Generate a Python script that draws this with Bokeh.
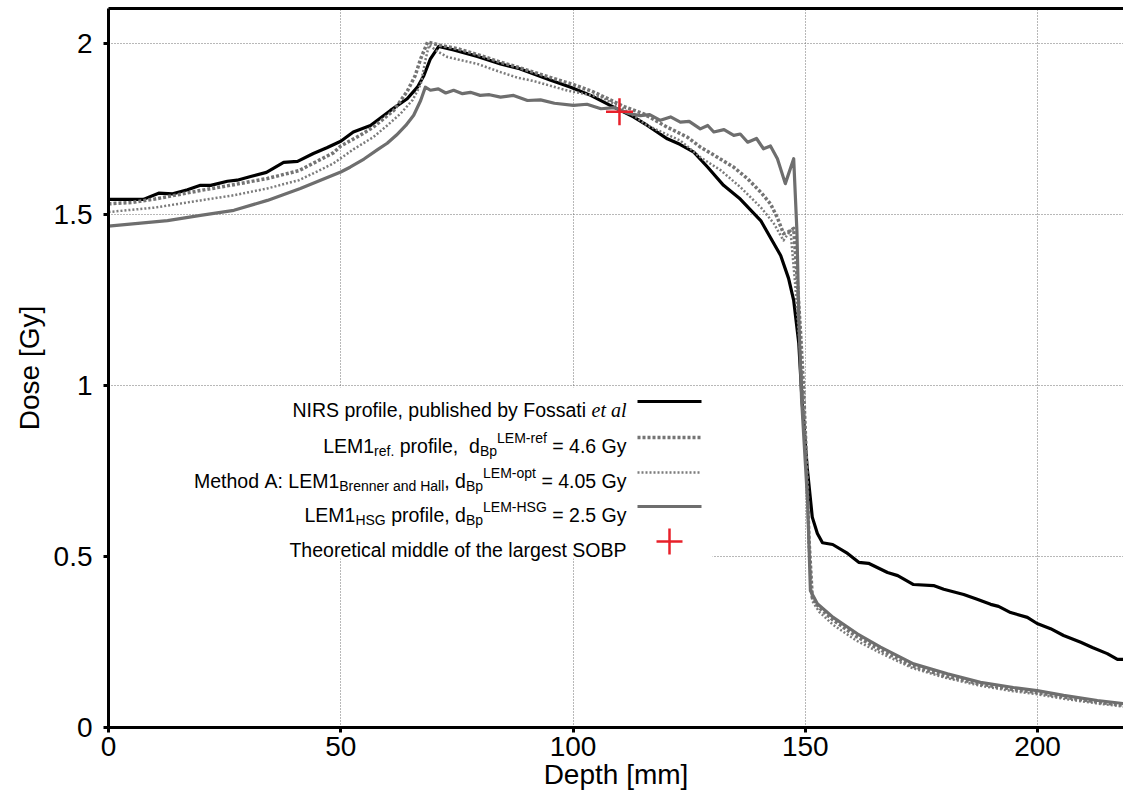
from bokeh.plotting import figure
from bokeh.models import Range1d, LinearAxis, FixedTicker, NumeralTickFormatter, BoxAnnotation, Label
from bokeh.embed import file_html
from bokeh.resources import INLINE

# ---------------- data ----------------
NIRS_X = [0, 7.5, 10.8, 13.8, 17, 19.8, 22, 25.6, 27.7, 30.6, 34, 37.7, 40.7, 44.1, 47, 50, 52.7, 56.4, 60.7, 64.3,
          66.5, 67.9, 69.3, 71.1, 74.3, 79.4, 84.4, 88.5, 92, 95.2, 99.5, 103.8, 108, 113, 116, 120.3, 123, 126, 129, 132.4,
          136, 140.4, 144.7, 146.4, 147.5, 148.6, 149.3, 150.4, 151.5, 152.6, 153.7, 155.9, 159.1, 161.5, 163.6, 167.7,
          169.9, 173.3, 177.6, 179.8, 184.1, 187, 189.9, 191.6, 194.2, 197.8, 199.9, 202.8, 205.6, 209.3, 211.8, 215,
          217.2, 218.5]
NIRS_Y = [1.544, 1.544, 1.562, 1.560, 1.572, 1.585, 1.585, 1.597, 1.600, 1.611, 1.623, 1.652, 1.655, 1.678, 1.695,
          1.714, 1.741, 1.760, 1.804, 1.838, 1.872, 1.906, 1.955, 1.991, 1.981, 1.962, 1.940, 1.926, 1.908, 1.892,
          1.872, 1.848, 1.819, 1.785, 1.760, 1.721, 1.705, 1.682, 1.638, 1.585, 1.545, 1.482, 1.380, 1.313, 1.249,
          1.123, 0.956, 0.761, 0.615, 0.567, 0.540, 0.535, 0.509, 0.483, 0.480, 0.453, 0.444, 0.418, 0.415, 0.404,
          0.389, 0.375, 0.360, 0.354, 0.336, 0.322, 0.304, 0.289, 0.269, 0.249, 0.234, 0.216, 0.199, 0.199]

LEMREF_X = [0, 5, 10, 19.8, 27, 34.2, 41, 48.4, 50, 54, 57, 61.4, 64.3, 66, 67.2, 68.7, 71.5, 75, 80, 84.4, 88, 95.2,
            100, 104.4, 108, 111, 115.2, 120.3, 124.6, 127.4, 131.1, 134.6, 137.6, 140.4, 142.5, 144, 145.3, 146.5,
            147.5, 148.3, 149, 149.6, 150.2, 150.8, 151.5, 153, 156, 161, 166, 173, 180, 187.7, 194.8, 200, 205.6,
            213, 218.5]
LEMREF_Y = [1.531, 1.535, 1.545, 1.570, 1.587, 1.605, 1.628, 1.680, 1.700, 1.730, 1.755, 1.804, 1.860, 1.905, 1.955,
            2.004, 1.994, 1.985, 1.965, 1.945, 1.931, 1.900, 1.880, 1.858, 1.835, 1.815, 1.794, 1.755, 1.726, 1.697,
            1.667, 1.638, 1.604, 1.565, 1.531, 1.490, 1.444, 1.450, 1.459, 1.300, 1.150, 1.000, 0.800, 0.550, 0.380,
            0.350, 0.314, 0.266, 0.228, 0.180, 0.151, 0.127, 0.111, 0.102, 0.089, 0.074, 0.065]

METHA_X = [0, 10, 19.8, 27, 34.2, 41, 45.6, 48.4, 52.7, 57, 60, 62.9, 65.5, 67.2, 68.2, 69, 71, 73, 79.4, 84.4, 88,
           91.5, 98.8, 106, 110, 113, 116, 123.1, 127.4, 131.8, 136, 140.4, 143.2, 145.3, 146.8, 147.8, 148.8, 149.5,
           150.2, 150.8, 151.5, 153, 156, 161, 166, 173, 180, 187.7, 194.8, 200, 205.6, 213, 218.5]
METHA_Y = [1.507, 1.520, 1.541, 1.556, 1.576, 1.600, 1.630, 1.649, 1.690, 1.726, 1.760, 1.795, 1.835, 1.880, 1.950,
           1.995, 1.975, 1.960, 1.940, 1.916, 1.900, 1.890, 1.862, 1.843, 1.815, 1.789, 1.760, 1.716, 1.667, 1.629,
           1.580, 1.521, 1.474, 1.424, 1.453, 1.300, 1.120, 0.980, 0.780, 0.520, 0.370, 0.338, 0.300, 0.254, 0.219,
           0.174, 0.146, 0.122, 0.106, 0.097, 0.084, 0.070, 0.061]

HSG_X = [0, 12.7, 19.8, 27, 34.2, 41.3, 50, 52, 55, 58, 60, 62, 64, 65.7, 67.2, 68.2, 69.3, 71, 72.6, 74.3, 76.2,
         77.9, 80, 82, 84.4, 87.2, 90.2, 93, 96, 100.1, 103, 106, 109, 112, 114.5, 116.5, 118.8, 121, 123.1, 125,
         127.4, 129, 130.3, 132.5, 134.6, 136, 137.6, 139.5, 141, 142.5, 144, 145.7, 147.5, 148.2, 148.6, 149.2,
         150.5, 151.1, 152.6, 156, 161.2, 166.2, 173.3, 180.6, 187.7, 194.8, 199.9, 205.6, 212.9, 218.5]
HSG_Y = [1.466, 1.482, 1.497, 1.512, 1.541, 1.576, 1.624, 1.638, 1.662, 1.690, 1.708, 1.732, 1.760, 1.790, 1.833,
         1.872, 1.863, 1.867, 1.855, 1.863, 1.853, 1.857, 1.848, 1.850, 1.843, 1.848, 1.833, 1.835, 1.825, 1.819,
         1.822, 1.809, 1.812, 1.795, 1.789, 1.792, 1.775, 1.785, 1.770, 1.772, 1.750, 1.760, 1.741, 1.748, 1.731,
         1.735, 1.711, 1.722, 1.692, 1.700, 1.663, 1.590, 1.663, 1.450, 1.200, 0.960, 0.660, 0.400, 0.362, 0.322,
         0.274, 0.235, 0.186, 0.157, 0.132, 0.117, 0.108, 0.094, 0.079, 0.070]

SOBP_X = [110]
SOBP_Y = [1.8]

X_TICKS = [0, 50, 100, 150, 200]
Y_TICKS = [0, 0.5, 1, 1.5, 2]

# ---------------- layout / style ----------------
W, H = 1123, 798
FL, FR, FT, FB = 108, 1123, 8, 727
X0, X1 = 0, 218.5
Y0, Y1 = 0, 2.102
FONT = "Liberation Sans"
RED = "#e8202a"
C_HSG = "#6e6e6e"
C_REF = "#747474"
C_MA = "#7c7c7c"


def px2x(px):
    return X0 + (px - FL) / (FR - FL) * (X1 - X0)


def py2y(py):
    return Y0 + (FB - py) / (FB - FT) * (Y1 - Y0)


p = figure(width=W, height=H, x_range=Range1d(X0, X1), y_range=Range1d(Y0, Y1),
           output_backend="svg", toolbar_location=None,
           min_border_left=FL, min_border_right=0, min_border_top=FT, min_border_bottom=H - FB,
           outline_line_color=None, background_fill_color="white", border_fill_color="white")

# axes
for ax in (p.xaxis[0], p.yaxis[0]):
    ax.axis_line_width = 3
    ax.axis_line_color = "black"
    ax.major_tick_line_width = 3
    ax.major_tick_in = 0
    ax.major_tick_out = 5
    ax.minor_tick_line_color = None
    ax.major_label_text_font = FONT
    ax.major_label_text_font_size = "28px"
    ax.major_label_text_color = "black"
    ax.axis_label_text_font = FONT
    ax.axis_label_text_font_size = "28px"
    ax.axis_label_text_font_style = "normal"
    ax.axis_label_text_color = "black"

p.xaxis.ticker = FixedTicker(ticks=X_TICKS)
p.yaxis.ticker = FixedTicker(ticks=Y_TICKS)
p.yaxis.formatter = NumeralTickFormatter(format="0.[0]")
p.xaxis.axis_label = "Depth [mm]"
p.yaxis.axis_label = "Dose [Gy]"
p.xaxis.major_label_standoff = 4
p.xaxis.axis_label_standoff = 0
p.yaxis.major_label_standoff = 11
p.yaxis.axis_label_standoff = 6

top_axis = LinearAxis(ticker=FixedTicker(ticks=[]), axis_line_width=3, axis_line_color="black",
                      major_label_text_font_size="0px", major_tick_line_color=None,
                      minor_tick_line_color=None, major_label_standoff=0)
p.add_layout(top_axis, "above")

# grid
p.xgrid.ticker = FixedTicker(ticks=[t for t in X_TICKS if t > 0])
p.ygrid.ticker = FixedTicker(ticks=[t for t in Y_TICKS if t > 0])
for g in (p.xgrid[0], p.ygrid[0]):
    g.grid_line_color = "#707070"
    g.grid_line_width = 1
    g.grid_line_dash = "1 2"

# legend background (hides grid)
p.add_layout(BoxAnnotation(left=px2x(FL), right=px2x(712), top=py2y(387), bottom=py2y(558),
                           fill_color="white", fill_alpha=1, line_color=None, level="underlay"))

# curves
STYLES = {
    "nirs": dict(line_color="black", line_width=3.2),
    "ma": dict(line_color=C_MA, line_width=2.5, line_dash="2 2"),
    "ref": dict(line_color=C_REF, line_width=3.5, line_dash="3 2"),
    "hsg": dict(line_color=C_HSG, line_width=3.2),
}
p.line(NIRS_X, NIRS_Y, line_join="round", **STYLES["nirs"])
p.line(METHA_X, METHA_Y, line_join="round", **STYLES["ma"])
p.line(LEMREF_X, LEMREF_Y, line_join="round", **STYLES["ref"])
p.line(HSG_X, HSG_Y, line_join="round", **STYLES["hsg"])
p.scatter(SOBP_X, SOBP_Y, marker="cross", size=27, line_color=RED, line_width=2.5)

# ---------------- legend (drawn manually to allow sub/superscripts) ----------------
ARIAL = {" ": 278, ".": 278, ",": 278, ":": 278, "=": 584, "-": 333,
         "0": 556, "1": 556, "2": 556, "3": 556, "4": 556, "5": 556, "6": 556, "7": 556, "8": 556, "9": 556,
         "A": 667, "B": 667, "E": 667, "F": 611, "G": 778, "H": 722, "I": 278, "L": 556, "M": 833, "N": 722,
         "O": 778, "P": 667, "R": 722, "S": 667, "T": 611,
         "a": 556, "b": 556, "c": 500, "d": 556, "e": 556, "f": 278, "g": 556, "h": 556, "i": 222, "l": 222,
         "m": 833, "n": 556, "o": 556, "p": 556, "r": 333, "s": 500, "t": 278, "u": 556, "y": 500}
TIMES_IT = {"e": 444, "t": 278, " ": 250, "a": 500, "l": 278}
LEG_FS, LEG_SS, LEG_IT = 19.5, 14, 20
LEG_RIGHT = 626
SAMPLE_X = (637, 701)
ROW_Y = [401, 437, 472, 506, 541]

LEG_ROWS = [
    [("NIRS profile, published by Fossati ", "n"), ("et al", "it")],
    [("LEM1", "n"), ("ref.", "sub"), (" profile,  d", "n"), ("Bp", "sub"), ("LEM-ref", "sup"), (" = 4.6 Gy", "n")],
    [("Method A: LEM1", "n"), ("Brenner and Hall", "sub"), (", d", "n"), ("Bp", "sub"), ("LEM-opt", "sup"),
     (" = 4.05 Gy", "n")],
    [("LEM1", "n"), ("HSG", "sub"), (" profile, d", "n"), ("Bp", "sub"), ("LEM-HSG", "sup"), (" = 2.5 Gy", "n")],
    [("Theoretical middle of the largest SOBP", "n")],
]
LEG_KEYS = ["nirs", "ref", "ma", "hsg", "cross"]


def seg_width(text, kind):
    if kind == "it":
        return sum(TIMES_IT.get(c, 500) for c in text) * LEG_IT / 1000
    size = LEG_FS if kind == "n" else LEG_SS
    return sum(ARIAL.get(c, 556) for c in text) * size / 1000


for row, ry, key in zip(LEG_ROWS, ROW_Y, LEG_KEYS):
    total = sum(seg_width(t, k) for t, k in row)
    xpos = LEG_RIGHT - total
    base = ry + 8
    for text, kind in row:
        if kind == "n":
            by, fs, font, style = base, LEG_FS, FONT, "normal"
        elif kind == "sub":
            by, fs, font, style = base + 5, LEG_SS, FONT, "normal"
        elif kind == "sup":
            by, fs, font, style = base - 8, LEG_SS, FONT, "normal"
        else:
            by, fs, font, style = base, LEG_IT, "Liberation Serif", "italic"
        words = text.split(" ")
        for i, wd in enumerate(words):
            if wd:
                p.add_layout(Label(x=px2x(xpos), y=py2y(by), text=wd, text_font=font,
                                   text_font_size=f"{fs}px", text_font_style=style,
                                   text_baseline="alphabetic", text_align="left", text_color="black"))
                xpos += seg_width(wd, kind)
            if i < len(words) - 1:
                xpos += seg_width(" ", kind)
    if key == "cross":
        p.scatter([px2x((SAMPLE_X[0] + SAMPLE_X[1]) / 2)], [py2y(ry)], marker="cross", size=26,
                  line_color=RED, line_width=2.5)
    else:
        p.line([px2x(SAMPLE_X[0]), px2x(SAMPLE_X[1])], [py2y(ry), py2y(ry)], **STYLES[key])

open("out.html", "w").write(file_html(p, INLINE))
